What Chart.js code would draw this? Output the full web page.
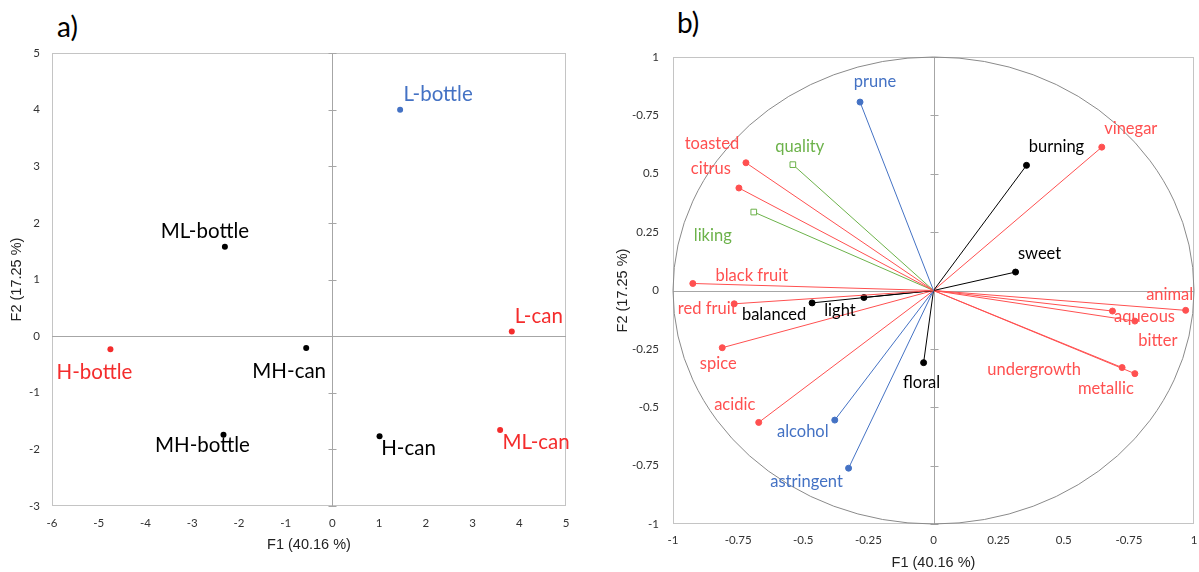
<!DOCTYPE html>
<html>
<head>
<meta charset="utf-8">
<script src="https://cdn.jsdelivr.net/npm/chart.js@4.4.1/dist/chart.umd.min.js"></script>
<style>
  body { margin: 0; background: #fff; width: 1199px; height: 572px; position: relative; overflow: hidden; }
  .panel { position: absolute; top: 0; height: 572px; }
  .tag { position: absolute; font: 28px Lato, sans-serif; color: #000; line-height: 1; }
</style>
</head>
<body>
<div class="tag" style="left:57px;top:12px">a)</div>
<div class="tag" style="left:677px;top:8px">b)</div>
<div class="panel" style="left:0;width:605px"><canvas id="scores" width="605" height="572"></canvas></div>
<div class="panel" style="left:605px;width:594px"><canvas id="loadings" width="594" height="572"></canvas></div>
<script>
const RED_A = '#f42c2c';
const RED = '#ff5050';
const BLUE = '#4472c4';
const GREEN = '#6cb24a';
const BLACK = '#000';

// a) sample scores on F1/F2
const sampleNames = ['L-bottle', 'ML-bottle', 'L-can', 'H-bottle', 'MH-can', 'MH-bottle', 'H-can', 'ML-can'];
const sampleF1 = [1.45, -2.30, 3.84, -4.75, -0.56, -2.33, 1.01, 3.59];
const sampleF2 = [4.00, 1.58, 0.08, -0.23, -0.21, -1.74, -1.77, -1.66];
const sampleColors = [BLUE, BLACK, RED_A, RED_A, BLACK, BLACK, BLACK, RED_A];
const sampleLabelOffsets = [[38, -15], [-20, -15], [27, -15], [-16, 23], [-17, 23], [-21, 11], [29, 12], [36, 12]];

// b) attribute correlations (circle of correlations)
const attrNames = ['prune', 'toasted', 'citrus', 'quality', 'liking', 'burning', 'vinegar', 'sweet',
  'black fruit', 'red fruit', 'balanced', 'light', 'spice', 'acidic', 'alcohol', 'astringent',
  'floral', 'animal', 'aqueous', 'bitter', 'undergrowth', 'metallic'];
const attrF1 = [-0.282, -0.720, -0.747, -0.540, -0.690, 0.357, 0.646, 0.315,
  -0.924, -0.765, -0.466, -0.267, -0.811, -0.671, -0.379, -0.326,
  -0.038, 0.968, 0.687, 0.773, 0.724, 0.773];
const attrF2 = [0.807, 0.547, 0.439, 0.539, 0.336, 0.536, 0.614, 0.079,
  0.030, -0.057, -0.053, -0.030, -0.245, -0.565, -0.555, -0.761,
  -0.309, -0.085, -0.088, -0.131, -0.330, -0.356];
const attrColors = [BLUE, RED, RED, GREEN, GREEN, BLACK, RED, BLACK,
  RED, RED, BLACK, BLACK, RED, RED, BLUE, BLUE,
  BLACK, RED, RED, RED, RED, RED];
const attrMarkers = attrColors.map(c => c === GREEN ? 'rect' : 'circle');
const attrLabelOffsets = [[15, -20], [-34, -19], [-28, -19], [7, -18], [-41, 24], [30, -19], [29, -18], [24, -18],
  [59, -8], [-27, 5], [-38, 12], [-24, 13], [-4, 16], [-24, -18], [-32, 12], [-42, 13],
  [-2, 20], [-16, -16], [32, 6], [23, 20], [-88, 2], [-29, 15]];

// tick texts of b) as printed
const loadingTickLabels = ['-1', '-0.75', '-0.5', '-0.25', '0', '0.25', '0.5', '-0.75', '1'];

const tickFont = { family: 'Lato', size: 11.5 };
const titleFont = { family: 'Liberation Sans', size: 14.5 };

// plot frame, zero axes with their small ticks, optional unit circle
const frame = {
  id: 'frame',
  beforeDatasetsDraw(chart, args, opts) {
    const { ctx, chartArea: a, scales: { x, y } } = chart;
    ctx.save();
    ctx.lineWidth = 1;
    ctx.strokeStyle = opts.borderColor;
    ctx.strokeRect(a.left + 0.5, a.top + 0.5, a.width - 1, a.height - 1);
    const x0 = Math.round(x.getPixelForValue(0)) + 0.5;
    const y0 = Math.round(y.getPixelForValue(0)) + 0.5;
    ctx.strokeStyle = opts.axisColor;
    ctx.beginPath();
    ctx.moveTo(x0, a.top);
    ctx.lineTo(x0, a.bottom);
    ctx.moveTo(a.left, y0);
    ctx.lineTo(a.right, y0);
    y.ticks.forEach(t => {
      const py = Math.round(y.getPixelForValue(t.value)) + 0.5;
      ctx.moveTo(x0 - 4, py);
      ctx.lineTo(x0 + 4, py);
    });
    ctx.stroke();
    if (opts.circle) {
      const rx = x.getPixelForValue(1) - x.getPixelForValue(0);
      const ry = y.getPixelForValue(0) - y.getPixelForValue(1);
      ctx.strokeStyle = opts.circleColor;
      ctx.beginPath();
      ctx.ellipse(x.getPixelForValue(0), y.getPixelForValue(0), rx, ry, 0, 0, Math.PI * 2);
      ctx.stroke();
    }
    ctx.restore();
  }
};

const pointLabels = {
  id: 'pointLabels',
  afterDatasetsDraw(chart, args, opts) {
    const { ctx } = chart;
    ctx.save();
    ctx.font = opts.font;
    ctx.textAlign = 'center';
    ctx.textBaseline = 'middle';
    opts.items.forEach(it => {
      const el = chart.getDatasetMeta(it.dataset).data[it.index];
      ctx.fillStyle = it.color;
      ctx.fillText(it.text, el.x + it.dx, el.y + it.dy);
    });
    ctx.restore();
  }
};

// fixed axis box sizes so both plot areas sit where the reference has them
const fixSize = (w, h) => s => {
  if (w) s.width = w;
  if (h) s.height = h;
  s.paddingLeft = 0; s.paddingRight = 0; s.paddingTop = 0; s.paddingBottom = 0;
};

const axis = (min, max, step, tickPad, title, titlePad, fit, labels) => ({
  type: 'linear',
  min: min,
  max: max,
  ticks: {
    stepSize: step, font: tickFont, color: '#333', padding: tickPad, maxRotation: 0, autoSkip: false,
    callback: labels ? (v, i) => labels[i] : (v) => v
  },
  grid: { display: false, drawTicks: false },
  border: { display: false },
  title: { display: true, text: title, font: titleFont, color: '#222', padding: titlePad },
  afterFit: fit
});

new Chart(document.getElementById('scores'), {
  type: 'scatter',
  data: {
    datasets: [{
      data: sampleF1.map((v, i) => ({ x: v, y: sampleF2[i] })),
      pointRadius: 3,
      pointBackgroundColor: sampleColors,
      pointBorderColor: sampleColors,
      pointBorderWidth: 0
    }]
  },
  options: {
    responsive: false,
    animation: false,
    layout: { padding: { top: 53, right: 39, left: 0, bottom: 0 } },
    scales: {
      x: axis(-6, 5, 1, 10, 'F1 (40.16 %)', { top: 0, bottom: 18 }, fixSize(0, 66)),
      y: axis(-3, 5, 1, 12, 'F2 (17.25 %)', { top: 8, bottom: 0 }, fixSize(52, 0))
    },
    plugins: {
      legend: { display: false },
      tooltip: { enabled: false },
      frame: { borderColor: '#c4c4c4', axisColor: '#a6a6a6', circle: false },
      pointLabels: {
        font: '20.5px Lato',
        items: sampleNames.map((n, i) => ({
          dataset: 0, index: i, text: n, color: sampleColors[i],
          dx: sampleLabelOffsets[i][0], dy: sampleLabelOffsets[i][1]
        }))
      }
    }
  },
  plugins: [frame, pointLabels]
});

new Chart(document.getElementById('loadings'), {
  type: 'scatter',
  data: {
    datasets: attrNames.map((n, i) => ({
      label: n,
      data: [{ x: 0, y: 0 }, { x: attrF1[i], y: attrF2[i] }],
      showLine: true,
      borderColor: attrColors[i],
      borderWidth: 1,
      pointStyle: attrMarkers[i],
      pointRadius: [0, attrMarkers[i] === 'rect' ? 4 : 3],
      pointBackgroundColor: attrMarkers[i] === 'rect' ? '#fff' : attrColors[i],
      pointBorderColor: attrColors[i],
      pointBorderWidth: 1
    }))
  },
  options: {
    responsive: false,
    animation: false,
    layout: { padding: { top: 57, right: 4, left: 0, bottom: 0 } },
    scales: {
      x: axis(-1, 1, 0.25, 9, 'F1 (40.16 %)', { top: 0, bottom: 0 }, fixSize(0, 48), loadingTickLabels),
      y: axis(-1, 1, 0.25, 14, 'F2 (17.25 %)', { top: 9, bottom: 0 }, fixSize(68, 0), loadingTickLabels)
    },
    plugins: {
      legend: { display: false },
      tooltip: { enabled: false },
      frame: { borderColor: '#c4c4c4', axisColor: '#a6a6a6', circle: true, circleColor: '#8a8a8a' },
      pointLabels: {
        font: '16.5px Lato',
        items: attrNames.map((n, i) => ({
          dataset: i, index: 1, text: n, color: attrColors[i],
          dx: attrLabelOffsets[i][0], dy: attrLabelOffsets[i][1]
        }))
      }
    }
  },
  plugins: [frame, pointLabels]
});
</script>
</body>
</html>
